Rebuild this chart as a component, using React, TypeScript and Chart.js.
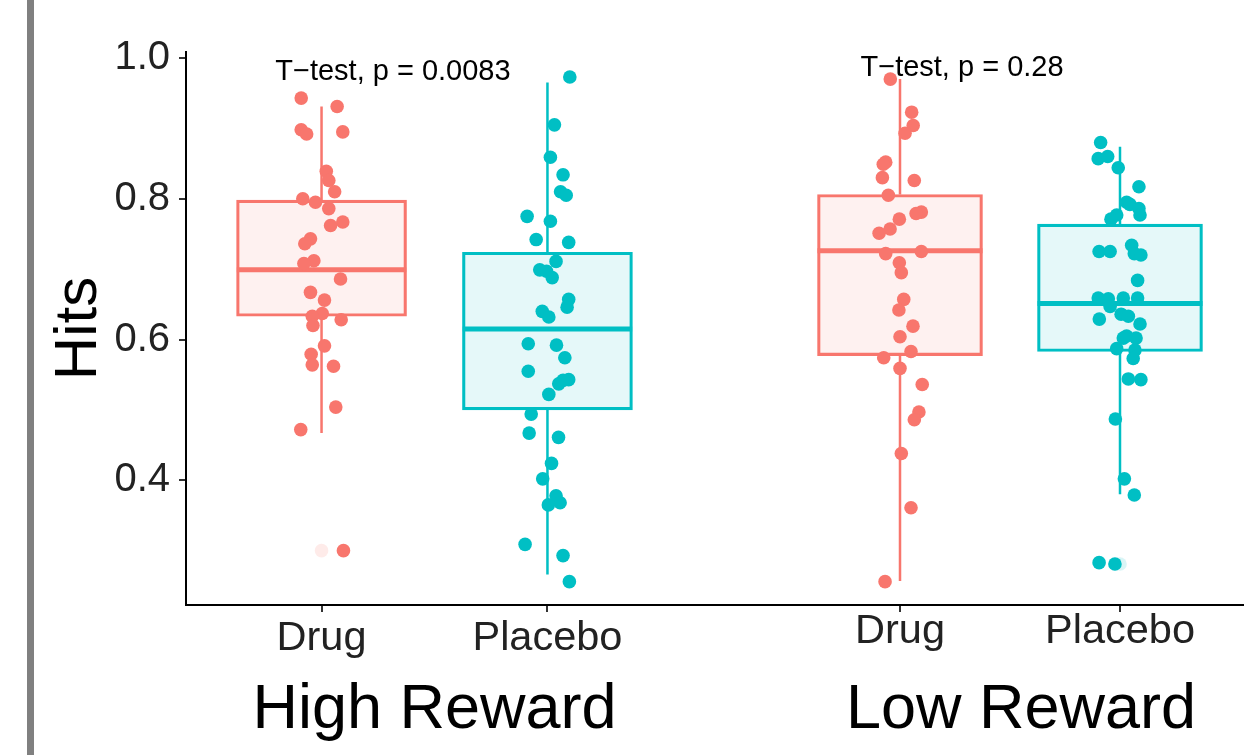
import React, { useEffect, useRef } from 'react';
import { Chart, registerables } from 'chart.js';

Chart.register(...registerables);

const FONT = '"Liberation Sans", Arial, Helvetica, sans-serif';
Chart.defaults.font.family = FONT;

// ---- data ----
const groups = ['Drug', 'Placebo'];
const facetTitles = ['High Reward', 'Low Reward'];
const testLabels = ['T\u2212test, p = 0.0083', 'T\u2212test, p = 0.28'];
const yTicks = [0.4, 0.6, 0.8, 1.0];

// box stats: [lower whisker, Q1, median, Q3, upper whisker]
const highDrugBox = [0.467, 0.633, 0.699, 0.798, 0.931];
const highPlaceboBox = [0.266, 0.5, 0.615, 0.724, 0.965];
const lowDrugBox = [0.257, 0.577, 0.726, 0.806, 0.97];
const lowPlaceboBox = [0.38, 0.583, 0.651, 0.764, 0.874];

const highDrugHits = [0.943, 0.931, 0.898, 0.892, 0.895, 0.839, 0.826, 0.81, 0.8, 0.795, 0.786, 0.767, 0.762, 0.743, 0.736, 0.712, 0.708, 0.686, 0.667, 0.656, 0.637, 0.633, 0.628, 0.62, 0.591, 0.579, 0.564, 0.562, 0.504, 0.472, 0.3];
const highDrugJitter = [-0.09, 0.069, -0.09, -0.066, 0.094, 0.021, 0.032, 0.058, -0.083, -0.027, 0.032, 0.094, 0.04, -0.049, -0.074, -0.034, -0.078, 0.084, -0.049, 0.013, 0.003, -0.041, 0.087, -0.038, 0.013, -0.046, -0.041, 0.053, 0.063, -0.092, 0.097];

const highPlaceboHits = [0.973, 0.905, 0.859, 0.834, 0.81, 0.805, 0.775, 0.768, 0.742, 0.738, 0.711, 0.699, 0.697, 0.688, 0.657, 0.646, 0.64, 0.632, 0.594, 0.592, 0.574, 0.555, 0.543, 0.537, 0.542, 0.522, 0.494, 0.467, 0.461, 0.424, 0.402, 0.378, 0.368, 0.365, 0.309, 0.293, 0.256];
const highPlaceboJitter = [0.099, 0.031, 0.013, 0.069, 0.058, 0.083, -0.09, 0.013, -0.05, 0.094, 0.038, -0.034, -0.004, 0.021, 0.094, 0.087, -0.023, 0.006, -0.085, 0.04, 0.077, -0.085, 0.094, 0.05, 0.069, 0.006, -0.072, -0.081, 0.049, 0.018, -0.021, 0.038, 0.056, 0.004, -0.099, 0.069, 0.097];

const lowDrugHits = [0.97, 0.923, 0.904, 0.893, 0.852, 0.849, 0.83, 0.826, 0.805, 0.781, 0.779, 0.771, 0.757, 0.751, 0.722, 0.725, 0.709, 0.695, 0.657, 0.642, 0.619, 0.604, 0.583, 0.574, 0.559, 0.536, 0.497, 0.486, 0.438, 0.361, 0.256];
const lowDrugJitter = [-0.044, 0.053, 0.06, 0.023, -0.065, -0.076, -0.08, 0.065, -0.053, 0.097, 0.073, -0.003, -0.045, -0.095, -0.065, 0.097, -0.003, 0.006, 0.017, -0.005, 0.059, 0.0, 0.05, -0.074, 0.0, 0.101, 0.086, 0.065, 0.006, 0.05, -0.068];

const lowPlaceboHits = [0.88, 0.857, 0.86, 0.844, 0.817, 0.795, 0.792, 0.786, 0.777, 0.777, 0.771, 0.734, 0.725, 0.725, 0.722, 0.72, 0.684, 0.659, 0.658, 0.659, 0.659, 0.647, 0.636, 0.633, 0.629, 0.622, 0.605, 0.602, 0.602, 0.587, 0.585, 0.573, 0.544, 0.543, 0.487, 0.402, 0.379, 0.283, 0.281];
const lowPlaceboJitter = [-0.088, -0.099, -0.056, -0.008, 0.086, 0.03, 0.045, 0.086, 0.091, -0.015, -0.041, 0.053, -0.095, -0.045, 0.065, 0.095, 0.08, -0.099, -0.053, 0.015, 0.08, -0.045, 0.005, 0.038, -0.094, 0.091, 0.03, 0.015, 0.073, -0.015, 0.068, 0.06, 0.038, 0.095, -0.021, 0.02, 0.065, -0.095, -0.023];

// boxplot outliers (drawn faded at the group centre)
const highDrugOutliers = [0.3];
const highPlaceboOutliers: number[] = [];
const lowDrugOutliers: number[] = [];
const lowPlaceboOutliers = [0.281];

// ---- styling ----
const COLORS = ['#F8766D', '#00BFC4'];
const FILLS = ['rgba(248,118,109,0.1)', 'rgba(0,191,196,0.1)'];
const FADED = ['rgba(248,118,109,0.15)', 'rgba(0,191,196,0.15)'];
const HALF_BOX = 0.375;
const Y_MIN = 0.2228;
const Y_MAX = 1.0085;

const testLabelPlugin = {
  id: 'testLabel',
  afterDatasetsDraw(chart: any, _args: any, opts: any) {
    if (!opts || !opts.text) return;
    const { ctx, scales } = chart;
    ctx.save();
    ctx.font = `29px ${FONT}`;
    ctx.fillStyle = '#000';
    ctx.textAlign = 'center';
    ctx.textBaseline = 'middle';
    ctx.fillText(opts.text, scales.x.getPixelForValue(opts.x), scales.y.getPixelForValue(opts.y));
    ctx.restore();
  },
};

type FacetOpts = {
  title: string;
  test: string;
  testX: number;
  testY: number;
  boxes: number[][];
  hits: number[][];
  jitter: number[][];
  outliers: number[][];
  xMin: number;
  xMax: number;
  showY: boolean;
  boxWidth: number;
  tickPad: number;
};

function makeConfig(f: FacetOpts): any {
  const datasets: any[] = [];
  f.hits.forEach((vals, g) => {
    datasets.push({
      type: 'scatter',
      data: vals.map((v, i) => ({ x: g + 1 + f.jitter[g][i], y: v })),
      pointRadius: 6.8,
      pointHoverRadius: 6.8,
      pointBackgroundColor: COLORS[g],
      pointBorderWidth: 0,
      order: 0,
    });
  });
  f.outliers.forEach((vals, g) => {
    datasets.push({
      type: 'scatter',
      data: vals.map((v) => ({ x: g + 1, y: v })),
      pointRadius: 6.8,
      pointBackgroundColor: FADED[g],
      pointBorderWidth: 0,
      order: 1,
    });
  });
  f.boxes.forEach((b, g) => {
    const [lo, q1, med, q3, hi] = b;
    datasets.push({
      type: 'line',
      data: [
        { x: g + 1 - HALF_BOX, y: med },
        { x: g + 1 + HALF_BOX, y: med },
      ],
      borderColor: COLORS[g],
      borderWidth: 5,
      pointRadius: 0,
      fill: false,
      order: 2,
    });
    datasets.push({
      type: 'line',
      data: [
        { x: g + 1, y: lo },
        { x: g + 1, y: q1 },
        { x: g + 1, y: null },
        { x: g + 1, y: q3 },
        { x: g + 1, y: hi },
      ],
      borderColor: COLORS[g],
      borderWidth: 2.5,
      pointRadius: 0,
      spanGaps: false,
      fill: false,
      order: 3,
    });
  });
  datasets.push({
    type: 'bar',
    data: f.boxes.map((b, g) => ({ x: g + 1, y: [b[1], b[3]] })),
    backgroundColor: FILLS,
    borderColor: COLORS,
    borderWidth: 2.5,
    borderSkipped: false,
    barThickness: f.boxWidth,
    grouped: false,
    order: 4,
  });

  return {
    type: 'scatter',
    data: { datasets },
    plugins: [testLabelPlugin],
    options: {
      responsive: false,
      animation: false,
      events: [],
      layout: { autoPadding: false, padding: { top: 52, left: 0, right: 0, bottom: 0 } },
      plugins: {
        legend: { display: false },
        tooltip: { enabled: false },
        testLabel: { text: f.test, x: f.testX, y: f.testY },
      },
      scales: {
        x: {
          type: 'linear',
          min: f.xMin,
          max: f.xMax,
          offset: false,
          afterBuildTicks: (s: any) => {
            s.ticks = groups.map((_, i) => ({ value: i + 1 }));
          },
          afterFit: (s: any) => {
            s.height = 150;
          },
          ticks: {
            autoSkip: false,
            maxRotation: 0,
            padding: f.tickPad,
            color: '#222',
            font: { size: 41.5, family: FONT },
            callback: (v: any) => groups[Math.round(v) - 1] ?? '',
          },
          grid: { offset: false, drawOnChartArea: false, drawTicks: true, tickLength: 7, color: '#333', lineWidth: 2 },
          border: { display: true, color: '#000', width: 2 },
          title: {
            display: true,
            text: f.title,
            color: '#000',
            font: { size: 63, family: FONT },
            padding: { top: 0, bottom: 7 },
          },
        },
        y: {
          type: 'linear',
          display: f.showY,
          min: Y_MIN,
          max: Y_MAX,
          afterBuildTicks: (s: any) => {
            s.ticks = yTicks.map((v) => ({ value: v }));
          },
          afterFit: (s: any) => {
            s.width = f.showY ? 186 : 0;
          },
          ticks: {
            padding: 9,
            color: '#222',
            font: { size: 40, family: FONT },
            callback: (v: any) => Number(v).toFixed(1),
          },
          grid: { offset: false, drawOnChartArea: false, drawTicks: true, tickLength: 7, color: '#333', lineWidth: 2 },
          border: { display: true, color: '#000', width: 2 },
          title: {
            display: true,
            text: 'Hits',
            color: '#000',
            font: { size: 60, family: FONT },
            padding: { top: 43, bottom: 0 },
          },
        },
      },
    },
  };
}

export default function App() {
  const leftRef = useRef<HTMLCanvasElement>(null);
  const rightRef = useRef<HTMLCanvasElement>(null);

  useEffect(() => {
    const left = new Chart(
      leftRef.current as HTMLCanvasElement,
      makeConfig({
        title: facetTitles[0],
        test: testLabels[0],
        testX: 1.316,
        testY: 0.98,
        boxes: [highDrugBox, highPlaceboBox],
        hits: [highDrugHits, highPlaceboHits],
        jitter: [highDrugJitter, highPlaceboJitter],
        outliers: [highDrugOutliers, highPlaceboOutliers],
        xMin: 0.4,
        xMax: 2.6,
        showY: true,
        boxWidth: 170,
        tickPad: 2,
      })
    );
    const right = new Chart(
      rightRef.current as HTMLCanvasElement,
      makeConfig({
        title: facetTitles[1],
        test: testLabels[1],
        testX: 1.282,
        testY: 0.986,
        boxes: [lowDrugBox, lowPlaceboBox],
        hits: [lowDrugHits, lowPlaceboHits],
        jitter: [lowDrugJitter, lowPlaceboJitter],
        outliers: [lowDrugOutliers, lowPlaceboOutliers],
        xMin: 0.0136,
        xMax: 3.0864,
        showY: false,
        boxWidth: 165,
        tickPad: -5,
      })
    );
    return () => {
      left.destroy();
      right.destroy();
    };
  }, []);

  return (
    <div
      style={{
        position: 'fixed',
        left: 0,
        top: 0,
        width: 1244,
        height: 755,
        overflow: 'hidden',
        background: '#fff',
      }}
    >
      <canvas ref={leftRef} width={683} height={755} style={{ position: 'absolute', left: 0, top: 0 }} />
      <canvas ref={rightRef} width={676} height={755} style={{ position: 'absolute', left: 683, top: 0 }} />
      <div style={{ position: 'absolute', left: 27, top: 0, width: 7, height: 755, background: '#808080' }} />
    </div>
  );
}
